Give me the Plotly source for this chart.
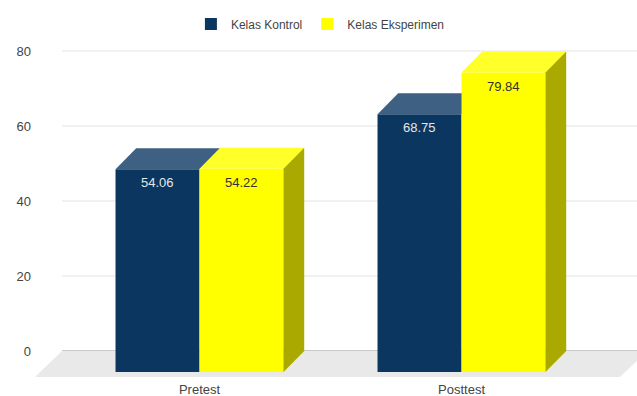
import plotly.graph_objects as go

# ---- data ----
categories = ["Pretest", "Posttest"]
kontrol = [54.06, 68.75]
eksperimen = [54.22, 79.84]
series_names = ["Kelas Kontrol", "Kelas Eksperimen"]
y_ticks = [0, 20, 40, 60, 80]

# ---- styles ----
W, H = 637, 396
FONT = "Liberation Sans, Arial, sans-serif"
TXT = "#444444"
front_colors = ["#0a365f", "#ffff00"]
top_colors = ["#3e6083", "#ffff2a"]
side_colors = ["#1d3550", "#a9a900"]
label_colors = ["#e6e6e6", "#333333"]

bar_w = 0.3206        # width of a bar in category units
dx, dy = 0.079, 5.6   # 3D depth offset (x in category units, y in value units)

# axis ranges (front face coordinates)
x_range = [-0.7615, 1.6698]
y_range = [-2.133, 99.2]
y2_range = [y_range[0] - dy, y_range[1] - dy]  # back plane coordinates

fig = go.Figure()
xs = list(range(len(categories)))
all_series = [kontrol, eksperimen]
offsets = [-bar_w, 0.0]

for si, (vals, name) in enumerate(zip(all_series, series_names)):
    # front faces
    fig.add_trace(go.Bar(
        x=xs, y=vals, width=bar_w, offset=offsets[si], name=name,
        marker=dict(color=front_colors[si], line=dict(width=0)),
        hoverinfo="skip", zorder=2 * si,
    ))
    for ci, v in enumerate(vals):
        xl = xs[ci] + offsets[si]
        xr = xl + bar_w
        # top face
        fig.add_trace(go.Scatter(
            x=[xl, xr, xr + dx, xl + dx, xl], y=[v, v, v + dy, v + dy, v],
            mode="lines", fill="toself", fillcolor=top_colors[si],
            line=dict(width=0), hoverinfo="skip", showlegend=False,
            zorder=2 * si + 1,
        ))
        # side face (only visible for the right-most series)
        if si == len(all_series) - 1:
            fig.add_trace(go.Scatter(
                x=[xr, xr + dx, xr + dx, xr, xr], y=[0, dy, v + dy, v, 0],
                mode="lines", fill="toself", fillcolor=side_colors[si],
                line=dict(width=0), hoverinfo="skip", showlegend=False,
                zorder=2 * si + 1,
            ))
        fig.add_annotation(
            x=xl + bar_w / 2, y=v, text=f"{v:.2f}", showarrow=False,
            yshift=-13.5, font=dict(size=13, color=label_colors[si], family=FONT),
        )

# invisible trace to anchor back-plane axis
fig.add_trace(go.Scatter(x=[0], y=[0], yaxis="y2", mode="markers",
                         marker=dict(opacity=0), hoverinfo="skip", showlegend=False))

# floor
fig.add_shape(type="path", xref="x", yref="y", layer="below",
              path="M -0.628,-1.333 L 1.605,-1.333 L 1.708,5.6 L -0.525,5.6 Z",
              fillcolor="#e9e9e9", line=dict(width=0))
# back-plane gridlines
for t in y_ticks:
    fig.add_shape(type="line", xref="paper", yref="y2", layer="below",
                  x0=62 / W, x1=1, y0=t, y1=t,
                  line=dict(color="#959595" if t == 0 else "#e3e3e3", width=1))

fig.update_layout(
    width=W, height=H,
    margin=dict(l=0, r=0, t=0, b=16),
    paper_bgcolor="white", plot_bgcolor="rgba(0,0,0,0)",
    barmode="overlay",
    font=dict(family=FONT, size=13, color=TXT),
    showlegend=True,
    legend=dict(orientation="h", x=0.503, xanchor="center", y=1 - 24 / 380,
                yanchor="middle", font=dict(size=12, color=TXT),
                bgcolor="rgba(0,0,0,0)"),
    xaxis=dict(range=x_range, tickvals=xs, ticktext=categories,
               showgrid=False, zeroline=False, showline=False, ticks="",
               tickfont=dict(size=13, color=TXT)),
    yaxis=dict(range=y_range, visible=False),
    yaxis2=dict(range=y2_range, overlaying="y", anchor="free", position=31 / W,
                side="left", tickvals=y_ticks, showgrid=False, zeroline=False,
                showline=False, ticks="", tickfont=dict(size=13, color=TXT)),
)

fig.write_html("out.html")
